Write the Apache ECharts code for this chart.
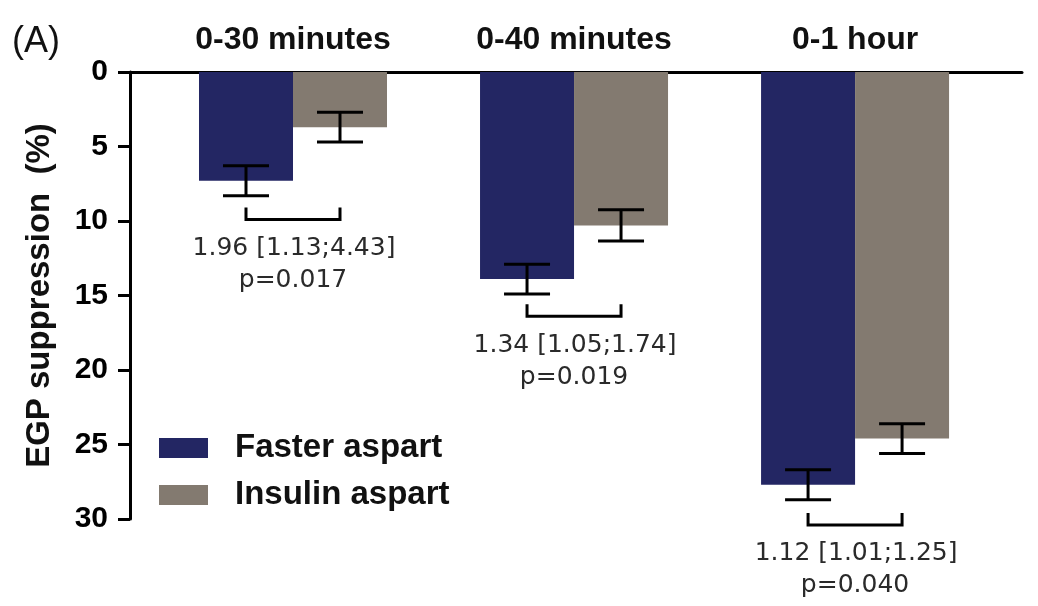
<!DOCTYPE html>
<html>
<head>
<meta charset="utf-8">
<script src="https://cdn.jsdelivr.net/npm/echarts@6/dist/echarts.min.js"></script>
<style>
  html, body { margin: 0; padding: 0; background: #fff; }
  #chart { width: 1038px; height: 606px; }
</style>
</head>
<body>
<div id="chart"></div>
<script>
// Time windows after dosing
const periods = ['0-30 minutes', '0-40 minutes', '0-1 hour'];

// EGP suppression (%), mean and error half-width
const fasterMean = [7.3, 13.9, 27.7];
const fasterErr = [1.0, 1.0, 1.0];
const insulinMean = [3.7, 10.3, 24.6];
const insulinErr = [1.0, 1.05, 1.0];

// Treatment ratio [95% CI] and p-value per window
const ratioLabels = ['1.96 [1.13;4.43]', '1.34 [1.05;1.74]', '1.12 [1.01;1.25]'];
const pLabels = ['p=0.017', 'p=0.019', 'p=0.040'];
// Depth (in % units) at which each comparison bracket sits
const bracketLevel = [9.9, 16.4, 30.4];

const yTicks = [0, 5, 10, 15, 20, 25, 30];

const FONT = '"Liberation Sans", Arial, sans-serif';
const BLUE = '#232663';
const GREY = '#837a70';
const BAR_W = 94;
const HALF = BAR_W / 2;
const CAP = 23;

const idx = periods.map((_, i) => i);

function errorBarRenderer(sign) {
  return function (params, api) {
    const x = api.value(0);
    const lo = api.coord([x, api.value(1) - api.value(2)]);
    const hi = api.coord([x, api.value(1) + api.value(2)]);
    const cx = lo[0] + sign * HALF;
    const style = { stroke: '#000', lineWidth: 3 };
    return {
      type: 'group',
      children: [
        { type: 'line', shape: { x1: cx, y1: lo[1], x2: cx, y2: hi[1] }, style },
        { type: 'line', shape: { x1: cx - CAP, y1: lo[1], x2: cx + CAP, y2: lo[1] }, style },
        { type: 'line', shape: { x1: cx - CAP, y1: hi[1], x2: cx + CAP, y2: hi[1] }, style }
      ]
    };
  };
}

function bracketRenderer(params, api) {
  const i = params.dataIndex;
  const p = api.coord([api.value(0), api.value(1)]);
  const x1 = p[0] - HALF, x2 = p[0] + HALF, y = p[1];
  const style = { stroke: '#000', lineWidth: 3, fill: null };
  const txt = { fill: '#2a2a2a', font: '25px "DejaVu Sans", ' + FONT, align: 'center', verticalAlign: 'middle' };
  return {
    type: 'group',
    children: [
      { type: 'polyline', shape: { points: [[x1, y - 12], [x1, y], [x2, y], [x2, y - 12]] }, style },
      { type: 'text', x: p[0] + 1, y: y + 29, style: Object.assign({ text: ratioLabels[i] }, txt) },
      { type: 'text', x: p[0], y: y + 61, style: Object.assign({ text: pLabels[i] }, txt) }
    ]
  };
}

const chart = echarts.init(document.getElementById('chart'), null, { renderer: 'canvas' });

chart.setOption({
  animation: false,
  backgroundColor: '#fff',
  textStyle: { fontFamily: FONT },
  grid: { left: 130, right: 16, top: 72, height: 447, containLabel: false },
  graphic: [
    { type: 'text', left: 12, top: 24, style: { text: '(A)', font: '36px ' + FONT, fill: '#111' } }
  ],
  legend: {
    orient: 'vertical',
    left: 159,
    top: 430,
    padding: 0,
    itemWidth: 49,
    itemHeight: 20,
    itemGap: 11,
    icon: 'rect',
    data: ['Faster aspart', 'Insulin aspart'],
    textStyle: { fontFamily: FONT, fontSize: 33, fontWeight: 'bold', color: '#111', lineHeight: 36, padding: [0, 0, 0, 22] }
  },
  xAxis: {
    type: 'value',
    position: 'top',
    min: -0.58,
    max: 2.594,
    splitLine: { show: false },
    axisTick: { show: false },
    axisLine: { show: true, onZero: false, lineStyle: { color: '#000', width: 3 } },
    axisLabel: {
      customValues: idx,
      formatter: v => periods[Math.round(v)],
      fontFamily: FONT, fontSize: 32, fontWeight: 'bold', color: '#111', margin: 16
    }
  },
  yAxis: {
    type: 'value',
    inverse: true,
    min: yTicks[0],
    max: yTicks[yTicks.length - 1],
    interval: 5,
    name: 'EGP suppression  (%)',
    nameLocation: 'middle',
    nameRotate: 90,
    nameGap: 74,
    nameTextStyle: { fontFamily: FONT, fontSize: 33, fontWeight: 'bold', color: '#111' },
    splitLine: { show: false },
    axisLine: { show: true, onZero: false, lineStyle: { color: '#000', width: 3 } },
    axisTick: { show: true, length: 12, lineStyle: { color: '#000', width: 3 } },
    axisLabel: { fontFamily: FONT, fontSize: 30, fontWeight: 'bold', color: '#000', margin: 22 }
  },
  series: [
    {
      name: 'Faster aspart', type: 'bar', barWidth: BAR_W, barGap: '0%',
      itemStyle: { color: BLUE },
      data: idx.map(i => [i, fasterMean[i]])
    },
    {
      name: 'Insulin aspart', type: 'bar', barWidth: BAR_W, barGap: '0%',
      itemStyle: { color: GREY },
      data: idx.map(i => [i, insulinMean[i]])
    },
    {
      name: 'faster-err', type: 'custom', z: 5,
      renderItem: errorBarRenderer(-1),
      encode: { x: 0, y: 1 },
      data: idx.map(i => [i, fasterMean[i], fasterErr[i]])
    },
    {
      name: 'insulin-err', type: 'custom', z: 5,
      renderItem: errorBarRenderer(1),
      encode: { x: 0, y: 1 },
      data: idx.map(i => [i, insulinMean[i], insulinErr[i]])
    },
    {
      name: 'comparison', type: 'custom', z: 5,
      renderItem: bracketRenderer,
      encode: { x: 0, y: 1 },
      data: idx.map(i => [i, bracketLevel[i]])
    }
  ]
});
</script>
</body>
</html>
